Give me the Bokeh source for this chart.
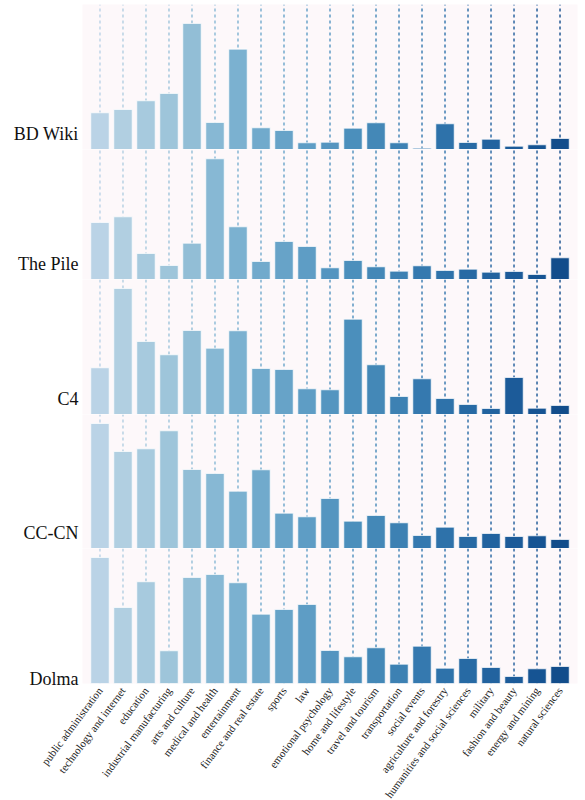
import colorsys
from bokeh.plotting import figure
from bokeh.layouts import column
from bokeh.models import FactorRange, Range1d, FixedTicker, ColumnDataSource
from bokeh.embed import file_html
from bokeh.resources import INLINE
from bokeh.palettes import Blues256

categories = [
    "public administration", "technology and internet", "education",
    "industrial manufacturing", "arts and culture", "medical and health",
    "entertainment", "finance and real estate", "sports", "law",
    "emotional psychology", "home and lifestyle", "travel and tourism",
    "transportation", "social events", "agriculture and forestry",
    "humanities and social sciences", "military", "fashion and beauty",
    "energy and mining", "natural sciences",
]

datasets = ["BD Wiki", "The Pile", "C4", "CC-CN", "Dolma"]

bd_wiki = [36.7, 40, 48.7, 56, 126, 27, 100.3, 21.7, 19, 6.7, 7.3, 21.3, 26.7, 6.7, 1.3, 25.7, 7, 10.3, 3.3, 4.7, 11]
the_pile = [57, 62.7, 26, 14, 36.3, 120.7, 52.7, 18, 38, 33, 11.7, 19, 12.7, 8.3, 13.7, 9, 10.3, 7.3, 8, 5, 21.7]
c4 = [46.7, 126, 73, 59.7, 84, 66.3, 83.7, 46, 45, 25.7, 24.7, 95.3, 49.7, 18, 35.7, 16, 10, 6, 37, 6.3, 9]
cc_cn = [125, 97, 99.7, 117.7, 79, 75, 57.3, 78.7, 35.3, 31.7, 50, 27.3, 33, 25.7, 13, 21.3, 12, 15, 12, 12.7, 9]
dolma = [126, 76, 101.7, 32.7, 106, 109, 100.7, 69.3, 74, 79, 33, 26.7, 35.7, 19.3, 37.3, 15.3, 25, 16, 7, 14.7, 17]

series = [bd_wiki, the_pile, c4, cc_cn, dolma]

# styling
frame_heights = [145, 130, 135, 134, 135]
headroom = [1.15, 1.077, 1.071, 1.072, 1.071]
BG = "#fdf8fa"
SERIF = "Liberation Serif"


def blues(t, desat=0.85):
    idx = 255 - int(round(t * 255))
    h = Blues256[idx].lstrip("#")
    r, g, b = (int(h[i:i + 2], 16) / 255 for i in (0, 2, 4))
    hh, ll, ss = colorsys.rgb_to_hls(r, g, b)
    r, g, b = colorsys.hls_to_rgb(hh, ll, ss * desat)
    return "#%02x%02x%02x" % (int(r * 255), int(g * 255), int(b * 255))


n = len(categories)
colors = [blues(0.3 + 0.59 * i / (n - 1)) for i in range(n)]

x_range = FactorRange(factors=categories, range_padding=0.26, range_padding_units="absolute")

figs = []
for k, (name, vals) in enumerate(zip(datasets, series)):
    last = k == len(datasets) - 1
    yend = max(vals) * headroom[k]
    src = ColumnDataSource(dict(cat=categories, val=vals, color=colors,
                                y0=[0] * n, y1=[yend] * n))
    p = figure(x_range=x_range, y_range=Range1d(0, yend),
               frame_width=495, frame_height=frame_heights[k],
               output_backend="svg", toolbar_location=None,
               x_axis_location="below" if last else None,
               min_border_left=82, min_border_right=6,
               min_border_top=4 if k == 0 else 0, min_border_bottom=0,
               background_fill_color=BG, border_fill_color="white",
               outline_line_color=None)
    p.grid.visible = False
    p.segment(x0="cat", y0="y0", x1="cat", y1="y1", source=src,
              line_color="color", line_dash="3 3", line_width=1.4, line_alpha=1.0)
    p.vbar(x="cat", top="val", width=0.8, source=src, fill_color="color",
           line_color="white", line_width=1, line_alpha=0.7)

    tick = int(round(0.03 * yend))
    ya = p.yaxis[0]
    ya.ticker = FixedTicker(ticks=[tick])
    ya.major_label_overrides = {tick: name}
    ya.major_label_text_font = SERIF
    ya.major_label_text_font_size = "18px"
    ya.major_label_text_color = "#111111"
    ya.major_label_standoff = 4
    ya.axis_line_color = None
    ya.major_tick_line_color = None
    ya.minor_tick_line_color = None
    ya.major_tick_out = 0

    if last:
        xa = p.xaxis[0]
        xa.major_label_orientation = 0.93
        xa.major_label_text_font = SERIF
        xa.major_label_text_font_size = "11px"
        xa.major_label_text_color = "#222222"
        xa.major_label_standoff = 5
        xa.axis_line_color = None
        xa.major_tick_line_color = None
        xa.major_tick_out = 0
    figs.append(p)

layout = column(*figs, spacing=0)
open("out.html", "w").write(file_html(layout, INLINE))
